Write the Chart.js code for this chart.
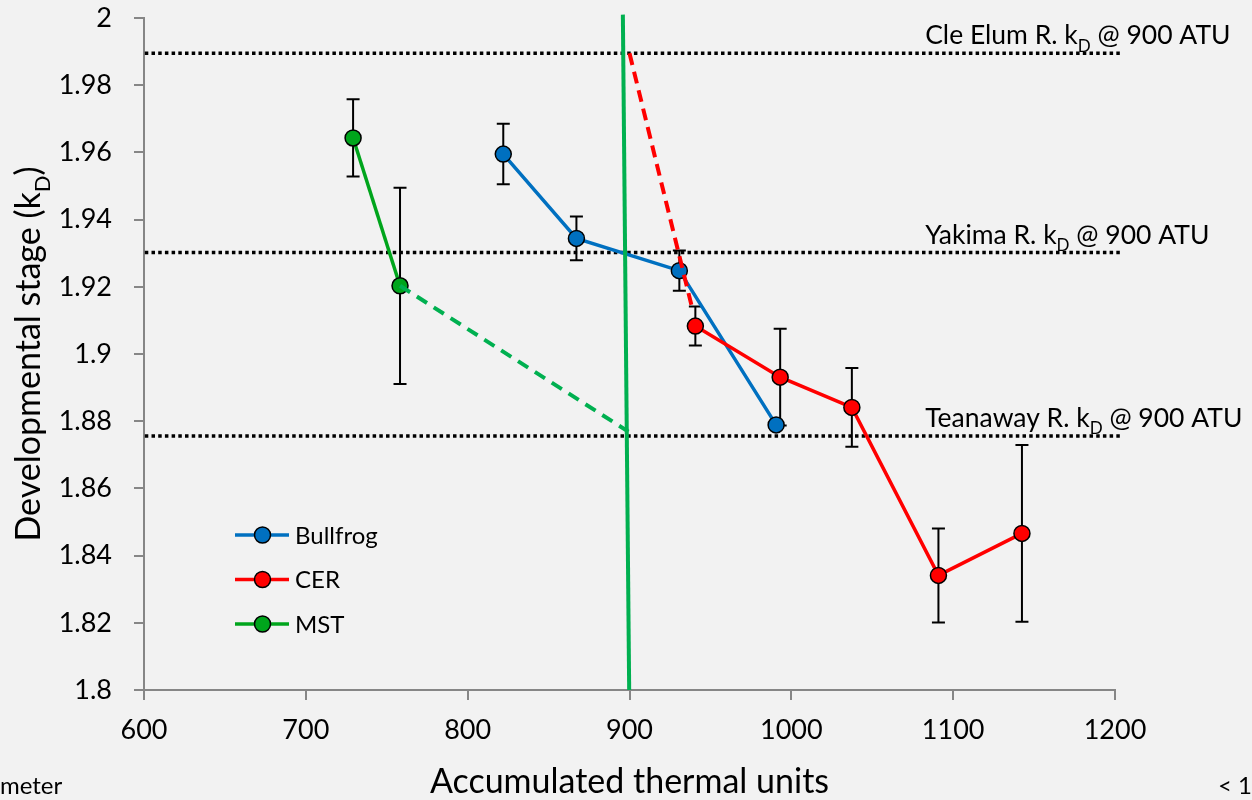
<!DOCTYPE html>
<html>
<head>
<meta charset="utf-8">
<script src="https://cdn.jsdelivr.net/npm/chart.js@4.4.1/dist/chart.umd.min.js"></script>
<style>
  html, body { margin: 0; padding: 0; background: #f2f2f2; }
  #wrap { width: 1252px; height: 800px; position: relative; }
</style>
</head>
<body>
<div id="wrap"><canvas id="c" width="1252" height="800"></canvas></div>
<script>
var xTicks = [600, 700, 800, 900, 1000, 1100, 1200];
var yTicks = [1.8, 1.82, 1.84, 1.86, 1.88, 1.9, 1.92, 1.94, 1.96, 1.98, 2];

var seriesNames = ['Bullfrog', 'CER', 'MST'];
var seriesColors = ['#0070c0', '#ff0000', '#00a51c'];

var bullfrogX = [822, 867.2, 930.8, 990.6];
var bullfrogY = [1.9595, 1.9344, 1.9248, 1.8789];
var bullfrogErr = [0.009, 0.0065, 0.006, 0];

var cerX = [940.7, 993.1, 1037.4, 1090.9, 1142.5];
var cerY = [1.9083, 1.8931, 1.8841, 1.8341, 1.8466];
var cerErr = [0.0058, 0.0144, 0.0117, 0.014, 0.0263];

var mstX = [729.2, 758.2];
var mstY = [1.9643, 1.9203];
var mstErr = [0.0115, 0.0292];

// projections to 900 ATU
var mstProjX = [758.2, 899.3];
var mstProjY = [1.9203, 1.8769];
var cerProjX = [900, 938.5];
var cerProjY = [1.9895, 1.9141];
var atuLineX = [895.9, 899.8];
var atuLineY = [2.001, 1.8];

// k_D of each river at 900 ATU
var refNames = ['Cle Elum R.', 'Yakima R.', 'Teanaway R.'];
var refY = [1.9895, 1.9302, 1.8756];
var refX = [600.5, 1203];

var FONT = 'Lato';

function pts(xs, ys) {
  return xs.map(function(x, i) { return {x: x, y: ys[i]}; });
}

function seriesSet(name, xs, ys, clr, order) {
  return {
    label: name,
    data: pts(xs, ys),
    borderColor: clr,
    backgroundColor: clr,
    borderWidth: 3.5,
    pointRadius: 8,
    pointBorderColor: '#000',
    pointBorderWidth: 1.5,
    pointBackgroundColor: clr,
    order: order
  };
}

function plainLine(xs, ys, clr, width, dash, order) {
  return {
    data: pts(xs, ys),
    borderColor: clr,
    borderWidth: width,
    borderDash: dash,
    pointRadius: 0,
    clip: false,
    order: order
  };
}

var datasets = [];
refY.forEach(function(v) {
  datasets.push(plainLine(refX, [v, v], '#000', 3.5, [3.5, 3.2], 10));
});
datasets.push(seriesSet('MST', mstX, mstY, seriesColors[2], 5));
datasets.push(seriesSet('Bullfrog', bullfrogX, bullfrogY, seriesColors[0], 4));
datasets.push(seriesSet('CER', cerX, cerY, seriesColors[1], 3));
datasets.push(plainLine(mstProjX, mstProjY, '#00b050', 4, [12, 8], 2));
datasets.push(plainLine(cerProjX, cerProjY, '#ff0000', 4, [12, 7], 1));
datasets.push(plainLine(atuLineX, atuLineY, '#00b050', 4, [], 0));

function drawKd(ctx, pre, post, x, y, size) {
  ctx.font = size + 'px ' + FONT;
  ctx.fillText(pre, x, y);
  var w = ctx.measureText(pre).width;
  ctx.font = Math.round(size * 0.66) + 'px ' + FONT;
  ctx.fillText('D', x + w, y + size * 0.28);
  var w2 = ctx.measureText('D').width;
  ctx.font = size + 'px ' + FONT;
  ctx.fillText(post, x + w + w2, y);
}

function kdWidth(ctx, pre, post, size) {
  ctx.font = size + 'px ' + FONT;
  var w = ctx.measureText(pre).width + ctx.measureText(post).width;
  ctx.font = Math.round(size * 0.66) + 'px ' + FONT;
  return w + ctx.measureText('D').width;
}

var overlay = {
  id: 'overlay',
  beforeDatasetsDraw: function(chart) {
    var ctx = chart.ctx, xs = chart.scales.x, ys = chart.scales.y;
    var groups = [[bullfrogX, bullfrogY, bullfrogErr], [cerX, cerY, cerErr], [mstX, mstY, mstErr]];
    ctx.save();
    ctx.strokeStyle = '#000';
    ctx.lineWidth = 2;
    groups.forEach(function(g) {
      g[0].forEach(function(xv, i) {
        if (!g[2][i]) return;
        var px = xs.getPixelForValue(xv);
        var top = ys.getPixelForValue(g[1][i] + g[2][i]);
        var bot = ys.getPixelForValue(g[1][i] - g[2][i]);
        ctx.beginPath();
        ctx.moveTo(px, top); ctx.lineTo(px, bot);
        ctx.moveTo(px - 6.5, top); ctx.lineTo(px + 6.5, top);
        ctx.moveTo(px - 6.5, bot); ctx.lineTo(px + 6.5, bot);
        ctx.stroke();
      });
    });
    ctx.restore();
  },
  afterDraw: function(chart) {
    var ctx = chart.ctx, xs = chart.scales.x, ys = chart.scales.y;
    var area = chart.chartArea;
    ctx.save();
    ctx.fillStyle = '#000';
    ctx.textBaseline = 'alphabetic';
    ctx.textAlign = 'left';

    // river labels above each dotted line
    refNames.forEach(function(n, i) {
      var px = xs.getPixelForValue(1082.7);
      var py = ys.getPixelForValue(refY[i]) - 9;
      drawKd(ctx, n + ' k', ' @ 900 ATU', px, py, 26.5);
    });

    // legend
    var lx = 235, ly = 535;
    seriesNames.forEach(function(n, i) {
      var y = ly + i * 44.5;
      ctx.strokeStyle = seriesColors[i];
      ctx.lineWidth = 3.5;
      ctx.beginPath();
      ctx.moveTo(lx, y); ctx.lineTo(lx + 54, y);
      ctx.stroke();
      ctx.beginPath();
      ctx.arc(lx + 27.5, y, 8, 0, Math.PI * 2);
      ctx.fillStyle = seriesColors[i];
      ctx.fill();
      ctx.strokeStyle = '#000';
      ctx.lineWidth = 1.5;
      ctx.stroke();
      ctx.fillStyle = '#000';
      ctx.font = '24px ' + FONT;
      ctx.textBaseline = 'middle';
      ctx.fillText(n, lx + 60, y + 1);
    });

    // axis titles
    ctx.textBaseline = 'alphabetic';
    ctx.textAlign = 'center';
    ctx.font = '34px ' + FONT;
    ctx.fillText('Accumulated thermal units', (area.left + area.right) / 2, 793);

    ctx.textAlign = 'left';
    ctx.translate(40, (area.top + area.bottom) / 2);
    ctx.rotate(-Math.PI / 2);
    var tw = kdWidth(ctx, 'Developmental stage (k', ')', 34);
    drawKd(ctx, 'Developmental stage (k', ')', -tw / 2, 0, 34);
    ctx.setTransform(1, 0, 0, 1, 0, 0);

    // text cut at the image edges
    ctx.font = '24px ' + FONT;
    ctx.fillText('meter', 0, 794);
    ctx.fillText('< 1', 1218, 794);
    ctx.restore();
  }
};

new Chart(document.getElementById('c'), {
  type: 'line',
  data: { datasets: datasets },
  plugins: [overlay],
  options: {
    responsive: false,
    animation: false,
    devicePixelRatio: 1,
    layout: { padding: { left: 0, top: 18, right: 137, bottom: 0 } },
    plugins: { legend: { display: false }, tooltip: { enabled: false } },
    scales: {
      x: {
        type: 'linear',
        min: 600,
        max: 1200,
        afterBuildTicks: function(s) { s.ticks = xTicks.map(function(v) { return {value: v}; }); },
        afterFit: function(s) { s.height = 110; s.paddingLeft = 0; s.paddingRight = 0; },
        border: { display: true, color: '#868686', width: 2 },
        grid: { drawOnChartArea: false, drawTicks: true, tickLength: 10, color: '#868686', lineWidth: 2 },
        ticks: {
          color: '#000', padding: 14, maxRotation: 0, font: { family: FONT, size: 27 },
          callback: function(v) { return String(v); }
        }
      },
      y: {
        type: 'linear',
        min: 1.8,
        max: 2,
        afterBuildTicks: function(s) { s.ticks = yTicks.map(function(v) { return {value: v}; }); },
        afterFit: function(s) { s.width = 144; s.paddingTop = 0; s.paddingBottom = 0; },
        border: { display: true, color: '#868686', width: 2 },
        grid: { drawOnChartArea: false, drawTicks: true, tickLength: 10, color: '#868686', lineWidth: 2 },
        ticks: {
          color: '#000', padding: 22, font: { family: FONT, size: 27 },
          callback: function(v) { return String(parseFloat(Number(v).toFixed(2))); }
        }
      }
    }
  }
});
</script>
</body>
</html>
